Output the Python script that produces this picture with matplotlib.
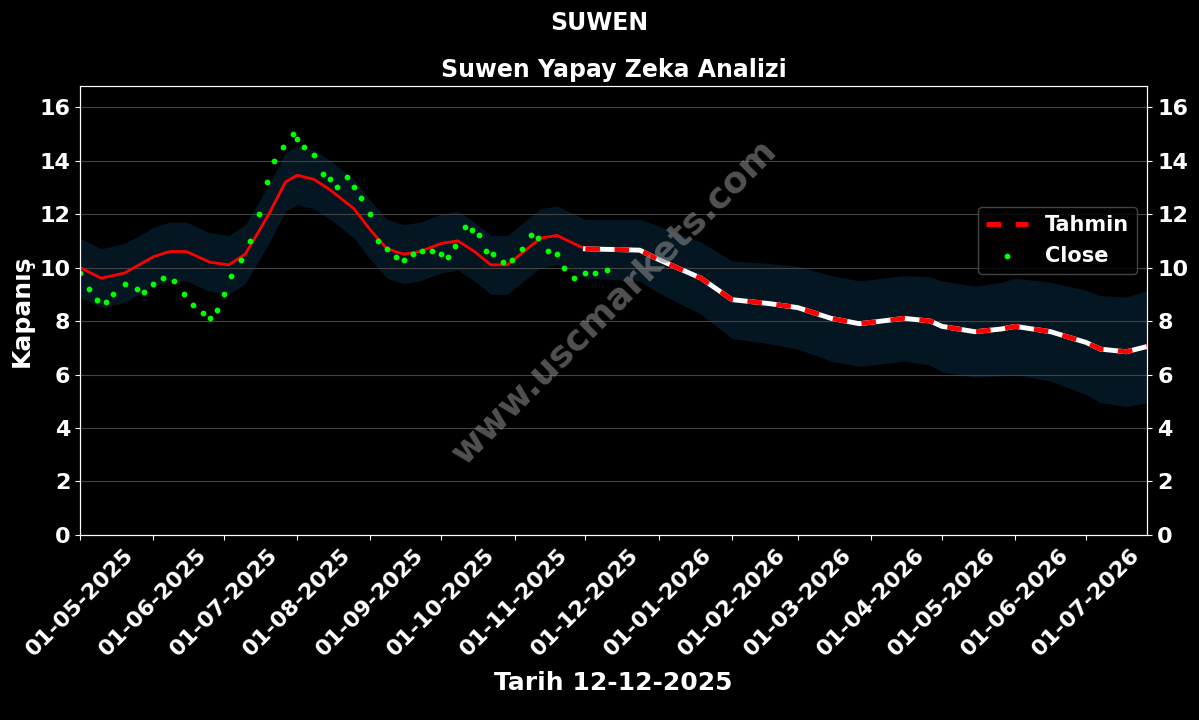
import matplotlib
matplotlib.use("Agg")
import matplotlib.pyplot as plt
import matplotlib.dates as mdates
import pandas as pd
import numpy as np

pred_dates = ["2025-05-01","2025-05-10","2025-05-20","2025-06-01","2025-06-08","2025-06-15","2025-06-25","2025-07-03","2025-07-10","2025-07-20","2025-07-27","2025-08-01","2025-08-08","2025-08-15","2025-08-25","2025-09-01","2025-09-08","2025-09-15","2025-09-22","2025-10-01","2025-10-08","2025-10-15","2025-10-22","2025-10-29","2025-11-05","2025-11-12","2025-11-19","2025-11-26","2025-12-01","2025-12-24","2026-01-01","2026-01-19","2026-02-01","2026-02-17","2026-03-01","2026-03-15","2026-03-27","2026-04-01","2026-04-15","2026-04-26","2026-05-01","2026-05-15","2026-05-26","2026-06-01","2026-06-16","2026-07-01","2026-07-07","2026-07-18","2026-07-27"]
pred_vals = [10.0,9.6,9.8,10.4,10.6,10.6,10.2,10.1,10.5,12.0,13.2,13.45,13.3,12.9,12.2,11.4,10.7,10.5,10.6,10.9,11.0,10.6,10.1,10.1,10.6,11.1,11.2,10.9,10.7,10.65,10.3,9.6,8.8,8.65,8.5,8.1,7.9,7.95,8.1,8.0,7.8,7.6,7.7,7.8,7.6,7.2,6.95,6.85,7.05]
band_half = [1.1,1.1,1.1,1.1,1.1,1.1,1.1,1.1,1.1,1.1,1.1,1.1,1.1,1.1,1.1,1.1,1.1,1.1,1.1,1.1,1.1,1.1,1.1,1.1,1.1,1.1,1.1,1.1,1.1,1.15,1.25,1.35,1.45,1.5,1.55,1.6,1.6,1.6,1.6,1.65,1.7,1.7,1.75,1.8,1.85,1.95,2.0,2.05,2.1]

close_dates = ["2025-05-01","2025-05-05","2025-05-08","2025-05-12","2025-05-15","2025-05-20","2025-05-25","2025-05-28","2025-06-01","2025-06-05","2025-06-10","2025-06-14","2025-06-18","2025-06-22","2025-06-25","2025-06-28","2025-07-01","2025-07-04","2025-07-08","2025-07-12","2025-07-16","2025-07-19","2025-07-22","2025-07-26","2025-07-30","2025-08-01","2025-08-04","2025-08-08","2025-08-12","2025-08-15","2025-08-18","2025-08-22","2025-08-25","2025-08-28","2025-09-01","2025-09-04","2025-09-08","2025-09-12","2025-09-15","2025-09-19","2025-09-23","2025-09-27","2025-10-01","2025-10-04","2025-10-07","2025-10-11","2025-10-14","2025-10-17","2025-10-20","2025-10-23","2025-10-27","2025-10-31","2025-11-04","2025-11-08","2025-11-11","2025-11-15","2025-11-19","2025-11-22","2025-11-26","2025-12-01","2025-12-05","2025-12-10"]
close_vals = [9.8,9.2,8.8,8.7,9.0,9.4,9.2,9.1,9.4,9.6,9.5,9.0,8.6,8.3,8.1,8.4,9.0,9.7,10.3,11.0,12.0,13.2,14.0,14.5,15.0,14.8,14.5,14.2,13.5,13.3,13.0,13.4,13.0,12.6,12.0,11.0,10.7,10.4,10.3,10.5,10.6,10.6,10.5,10.4,10.8,11.5,11.4,11.2,10.6,10.5,10.2,10.3,10.7,11.2,11.1,10.6,10.5,10.0,9.6,9.8,9.8,9.9]

pd_ = pd.to_datetime(pred_dates)
pv = np.array(pred_vals); bh = np.array(band_half)
cd = pd.to_datetime(close_dates)

fig = plt.figure(figsize=(11.99, 7.2), dpi=100, facecolor="black")
ax = fig.add_axes([0.0667, 0.257, 0.8903, 0.624], facecolor="black")
ax.fill_between(pd_, pv - bh, pv + bh, color="#041622", lw=0)
cut = pd.Timestamp("2025-12-01")
m = pd_ <= cut
ax.plot(pd_[m], pv[m], color="red", lw=2)
m2 = pd_ >= cut
ax.plot(pd_[m2], pv[m2], color="white", lw=3.5)
ax.plot(pd_[m2], pv[m2], color="red", lw=3.5, ls=(0, (3, 3)), label="Tahmin")
ax.scatter(cd, close_vals, color="#00ff00", s=10, label="Close", zorder=3)

ax.set_xlim(pd.Timestamp("2025-05-01"), pd.Timestamp("2026-07-27"))
ax.set_ylim(0, 16.8)
ax.set_yticks(range(0, 17, 2))
ax.grid(axis="y", color="#444444", lw=0.8)
ax.xaxis.set_major_locator(mdates.MonthLocator())
ax.xaxis.set_major_formatter(mdates.DateFormatter("%d-%m-%Y"))
ax.tick_params(colors="white", labelsize=16)
plt.setp(ax.get_xticklabels(), rotation=45, ha="center")
for l in ax.get_xticklabels() + ax.get_yticklabels():
    l.set_fontweight("bold"); l.set_color("white")
for s in ax.spines.values():
    s.set_color("white")
ax2 = ax.twinx()
ax2.set_ylim(ax.get_ylim()); ax2.set_yticks(range(0, 17, 2))
ax2.tick_params(colors="white", labelsize=16)
for l in ax2.get_yticklabels():
    l.set_fontweight("bold"); l.set_color("white")
for s in ax2.spines.values():
    s.set_color("white")

ax.set_ylabel("Kapanış", color="white", fontsize=18, fontweight="bold")
ax.set_xlabel("Tarih 12-12-2025", color="white", fontsize=18, fontweight="bold", labelpad=8)
ax.set_title("Suwen Yapay Zeka Analizi", color="white", fontsize=17, fontweight="bold", pad=6)
fig.suptitle("SUWEN", color="white", fontsize=17, fontweight="bold", y=0.985)
leg = ax.legend(loc="center right", bbox_to_anchor=(1.0, 0.655), facecolor="black", edgecolor="#555555",
                prop={"weight": "bold", "size": 15})
for t in leg.get_texts():
    t.set_color("white")
ax.text(0.5, 0.52, "www.uscmarkets.com", transform=ax.transAxes, rotation=45, color="#888888",
        alpha=0.6, fontsize=26, fontweight="bold", ha="center", va="center")
fig.savefig("out.png", dpi=100, facecolor="black")
